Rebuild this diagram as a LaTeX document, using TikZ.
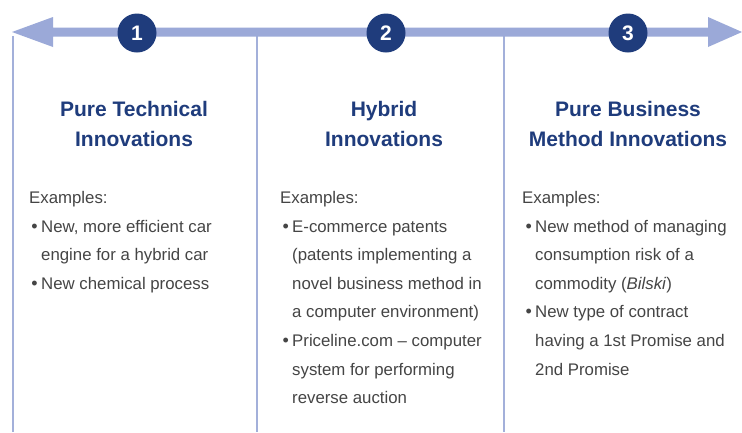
\documentclass[tikz,border=0pt]{standalone}
\usepackage{fontspec}
\setmainfont{Liberation Sans}
\definecolor{navy}{HTML}{1F3C7C}
\definecolor{linec}{HTML}{A3B0DA}
\definecolor{arrowc}{HTML}{9BA9D8}
\definecolor{bodyc}{HTML}{454545}
\begin{document}
\begin{tikzpicture}[x=1pt,y=-1pt,
  rule/.style={draw=linec, line width=2pt},
  badge/.style={circle, fill=navy, minimum size=39pt, inner sep=0pt, text=white,
    font=\fontsize{21}{21}\selectfont\bfseries},
  heading/.style={align=center, text=navy, inner sep=0pt, anchor=base,
    font=\fontsize{21}{30}\selectfont\bfseries},
  body/.style={align=left, text=bodyc, inner sep=0pt, anchor=base west,
    font=\fontsize{16.8}{28.6}\selectfont},
  dot/.style={text=bodyc, inner sep=0pt, anchor=base east,
    font=\fontsize{18}{28.6}\selectfont}]
\useasboundingbox (0,0) rectangle (742,432);
\fill[white] (0,0) rectangle (742,432);

% column dividers
\draw[rule] (13,36) -- (13,432);
\draw[rule] (257,36) -- (257,432);
\draw[rule] (504,36) -- (504,432);

% double-headed timeline
\fill[arrowc] (12,32) -- (53,17) -- (53,27.5) -- (708,27.5) -- (708,17)
  -- (742,32) -- (708,47) -- (708,36.5) -- (53,36.5) -- (53,47) -- cycle;

% numbered badges
\node[badge] (b1) at (137,33) {1};
\node[badge] (b2) at (386,33) {2};
\node[badge] (b3) at (628,33) {3};

% headings (anchored on the baseline of their last line)
\node[heading] (t1) at (134,146) {Pure Technical\\Innovations};
\node[heading] (t2) at (384,146) {Hybrid\\Innovations};
\node[heading] (t3) at (628,146) {Pure Business\\Method Innovations};

% body texts are anchored on the baseline of their last line;
% bullets sit on the baseline of the first line

% column 1
\node[body] (ex1) at (29,203) {Examples:};
\node[body] (i11) at (41,260.6) {New, more efficient car\\engine for a hybrid car};
\node[dot] (d11) at (38,232) {•};
\node[body] (i12) at (41,289.2) {New chemical process};
\node[dot] (d12) at (38,289.2) {•};

% column 2
\node[body] (ex2) at (280,203) {Examples:};
\node[body] (i21) at (292,317.8) {E-commerce patents\\(patents implementing a\\novel business method in\\a computer environment)};
\node[dot] (d21) at (289,232) {•};
\node[body] (i22) at (292,403.6) {Priceline.com – computer\\system for performing\\reverse auction};
\node[dot] (d22) at (289,346.4) {•};

% column 3
\node[body] (ex3) at (522,203) {Examples:};
\node[body] (i31) at (535,289.2) {New method of managing\\consumption risk of a\\commodity (\textit{Bilski})};
\node[dot] (d31) at (532,232) {•};
\node[body] (i32) at (535,375) {New type of contract\\having a 1st Promise and\\2nd Promise};
\node[dot] (d32) at (532,317.8) {•};
\end{tikzpicture}
\end{document}
